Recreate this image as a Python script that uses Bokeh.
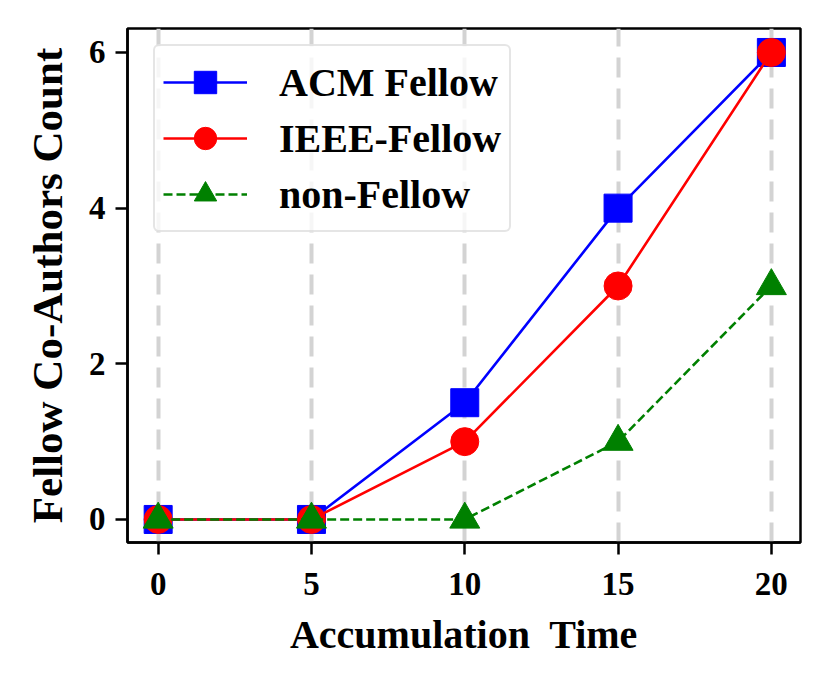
from bokeh.plotting import figure
from bokeh.models import FixedTicker, Range1d, Legend, LegendItem
from bokeh.embed import file_html
from bokeh.resources import INLINE

times = [0, 5, 10, 15, 20]
acm = [0, 0, 1.5, 4, 6]
ieee = [0, 0, 1, 3, 6]
non_fellow = [0, 0, 0, 1, 3]
x_ticks = [0, 5, 10, 15, 20]
y_ticks = [0, 2, 4, 6]

FONT = "Liberation Serif"

p = figure(width=815, height=669, output_backend="svg", toolbar_location=None,
           x_range=Range1d(-1.0, 20.95), y_range=Range1d(-0.296, 6.308),
           min_border_left=127, min_border_top=28, min_border_right=15, min_border_bottom=127)

p.outline_line_color = "black"
p.outline_line_width = 2.5
p.ygrid.visible = False
p.xgrid.ticker = FixedTicker(ticks=x_ticks)
p.xgrid.grid_line_color = "#d3d3d3"
p.xgrid.grid_line_width = 4
p.xgrid.grid_line_dash = "20 11"

for ax in (p.xaxis, p.yaxis):
    ax.axis_line_width = 2.5
    ax.major_tick_line_width = 2.5
    ax.major_tick_out = 12
    ax.major_tick_in = 0
    ax.minor_tick_line_color = None
    ax.major_label_text_font = FONT
    ax.major_label_text_font_style = "bold"
    ax.major_label_text_font_size = "33px"
    ax.major_label_text_color = "black"
    ax.axis_label_text_font = FONT
    ax.axis_label_text_font_style = "bold"
    ax.axis_label_text_color = "black"

p.xaxis.axis_label_text_font_size = "40px"
p.yaxis.axis_label_text_font_size = "43px"
p.xaxis.ticker = FixedTicker(ticks=x_ticks)
p.yaxis.ticker = FixedTicker(ticks=y_ticks)
p.xaxis.axis_label = "Accumulation\u00a0 Time"
p.yaxis.axis_label = "Fellow Co-Authors Count"
p.xaxis.major_label_standoff = 18
p.yaxis.major_label_standoff = 10
p.xaxis.axis_label_standoff = 14
p.yaxis.axis_label_standoff = 15

l1 = p.line(times, acm, line_color="blue", line_width=2.6)
m1 = p.scatter(times, acm, marker="square", size=28, fill_color="blue", line_color="blue")
l2 = p.line(times, ieee, line_color="red", line_width=2.6)
m2 = p.scatter(times, ieee, marker="circle", size=28, fill_color="red", line_color="red")
l3 = p.line(times, non_fellow, line_color="green", line_width=2.6, line_dash="9 4")
m3 = p.scatter(times, non_fellow, marker="triangle", size=30, fill_color="green", line_color="green")

legend = Legend(items=[
    LegendItem(label="ACM Fellow", renderers=[l1, m1]),
    LegendItem(label="IEEE-Fellow", renderers=[l2, m2]),
    LegendItem(label="non-Fellow", renderers=[l3, m3]),
], location=(26, 310))
legend.label_text_font = FONT
legend.label_text_font_style = "bold"
legend.label_text_font_size = "40px"
legend.label_text_color = "black"
legend.glyph_width = 84
legend.glyph_height = 56
legend.label_height = 40
legend.spacing = 0
legend.label_standoff = 32
legend.padding = 8
legend.margin = 0
legend.border_line_color = "#cccccc"
legend.border_line_width = 2.5
legend.border_radius = 6
legend.background_fill_alpha = 0.8
p.add_layout(legend, "center")

open("out.html", "w").write(file_html(p, INLINE))
